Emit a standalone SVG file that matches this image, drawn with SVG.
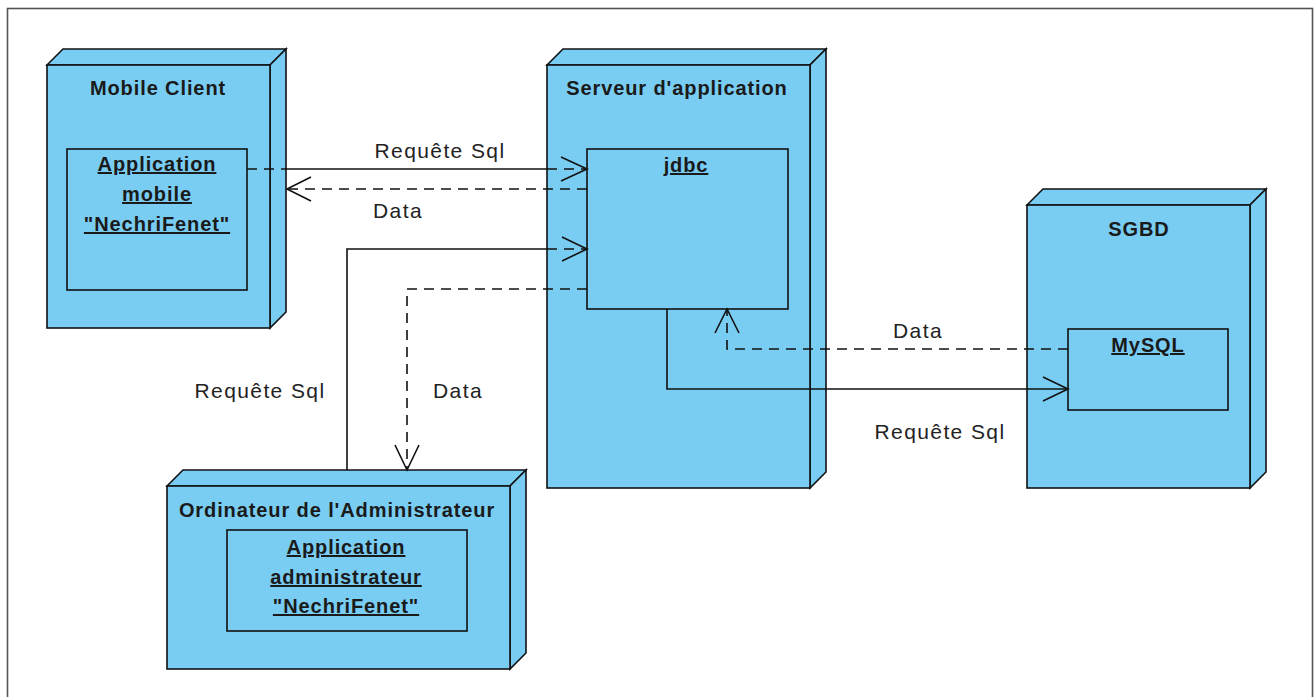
<svg xmlns="http://www.w3.org/2000/svg" width="1315" height="697" viewBox="0 0 1315 697">
<style>
.node{fill:#79CDF2;stroke:#111;stroke-width:1.6;stroke-linejoin:miter}
.box{fill:#79CDF2;stroke:#111;stroke-width:1.6}
.title{font-family:"Liberation Sans",Arial,sans-serif;font-weight:bold;font-size:20px;letter-spacing:0.9px;fill:#1a1a1a;text-anchor:middle}
.art{font-family:"Liberation Sans",Arial,sans-serif;font-weight:bold;font-size:20px;letter-spacing:0.9px;fill:#1a1a1a;text-anchor:middle;text-decoration:underline}
.lbl{font-family:"Liberation Sans",Arial,sans-serif;font-size:21px;letter-spacing:1.4px;fill:#222;text-anchor:middle}
.solid{fill:none;stroke:#111;stroke-width:1.6}
.dash{fill:none;stroke:#111;stroke-width:1.6;stroke-dasharray:10 7}
.head{fill:none;stroke:#111;stroke-width:1.6}
</style>
<rect x="0" y="0" width="1315" height="697" fill="#ffffff"/>
<rect x="7.5" y="8.5" width="1305" height="720" fill="none" stroke="#555" stroke-width="1.6"/>

<g id="node-mobile">
<path class="node" d="M47,65 L63,49 L286,49 L270,65 Z"/>
<path class="node" d="M270,65 L286,49 L286,312 L270,328 Z"/>
<rect class="node" x="47" y="65" width="223" height="263"/>
<text class="title" x="158" y="95">Mobile Client</text>
<rect class="box" x="67" y="149" width="180" height="141"/>
<text class="art" x="157" y="171">Application</text>
<text class="art" x="157" y="201">mobile</text>
<text class="art" x="157" y="231">"NechriFenet"</text>
</g>

<g id="node-server">
<path class="node" d="M547,65 L563,49 L826,49 L810,65 Z"/>
<path class="node" d="M810,65 L826,49 L826,472 L810,488 Z"/>
<rect class="node" x="547" y="65" width="263" height="423"/>
<text class="title" x="677" y="95">Serveur d'application</text>
<rect class="box" x="587" y="149" width="201" height="160"/>
<text class="art" x="686" y="172">jdbc</text>
</g>

<g id="node-sgbd">
<path class="node" d="M1027,205 L1043,189 L1266,189 L1250,205 Z"/>
<path class="node" d="M1250,205 L1266,189 L1266,472 L1250,488 Z"/>
<rect class="node" x="1027" y="205" width="223" height="283"/>
<text class="title" x="1139" y="236">SGBD</text>
<rect class="box" x="1068" y="329" width="160" height="81"/>
<text class="art" x="1148" y="352">MySQL</text>
</g>

<g id="node-admin">
<path class="node" d="M167,486 L183,470 L526,470 L510,486 Z"/>
<path class="node" d="M510,486 L526,470 L526,653 L510,669 Z"/>
<rect class="node" x="167" y="486" width="343" height="183"/>
<text class="title" x="337" y="517">Ordinateur de l'Administrateur</text>
<rect class="box" x="227" y="530" width="240" height="101"/>
<text class="art" x="346" y="554">Application</text>
<text class="art" x="346" y="584">administrateur</text>
<text class="art" x="346" y="613">"NechriFenet"</text>
</g>

<g id="connectors">
<!-- Mobile -> jdbc : Requête Sql -->
<path class="dash" d="M247,169 L286,169"/>
<path class="solid" d="M286,169 L547,169"/>
<path class="dash" d="M547,169 L587,169"/>
<path class="head" d="M561,157 L587,169 L561,181"/>
<text class="lbl" x="440" y="158">Requête Sql</text>
<!-- jdbc -> Mobile : Data -->
<path class="dash" d="M587,189 L287,189"/>
<path class="head" d="M311,177 L287,189 L311,201"/>
<text class="lbl" x="398" y="218">Data</text>
<!-- Admin -> jdbc : Requête Sql -->
<path class="solid" d="M347,470 L347,249 L547,249"/>
<path class="dash" d="M547,249 L587,249"/>
<path class="head" d="M562,237 L587,249 L562,261"/>
<text class="lbl" x="260" y="398">Requête Sql</text>
<!-- jdbc -> Admin : Data -->
<path class="dash" d="M587,289 L407,289 L407,470"/>
<path class="head" d="M395,445 L407,470 L419,445"/>
<text class="lbl" x="458" y="398">Data</text>
<!-- jdbc -> MySQL : Requête Sql -->
<path class="solid" d="M667,309 L667,389 L1068,389"/>
<path class="head" d="M1043,377 L1068,389 L1043,401"/>
<text class="lbl" x="940" y="439">Requête Sql</text>
<!-- MySQL -> jdbc : Data -->
<path class="dash" d="M1068,349 L727,349 L727,309"/>
<path class="head" d="M715,333 L727,309 L739,333"/>
<text class="lbl" x="918" y="338">Data</text>
</g>
</svg>
